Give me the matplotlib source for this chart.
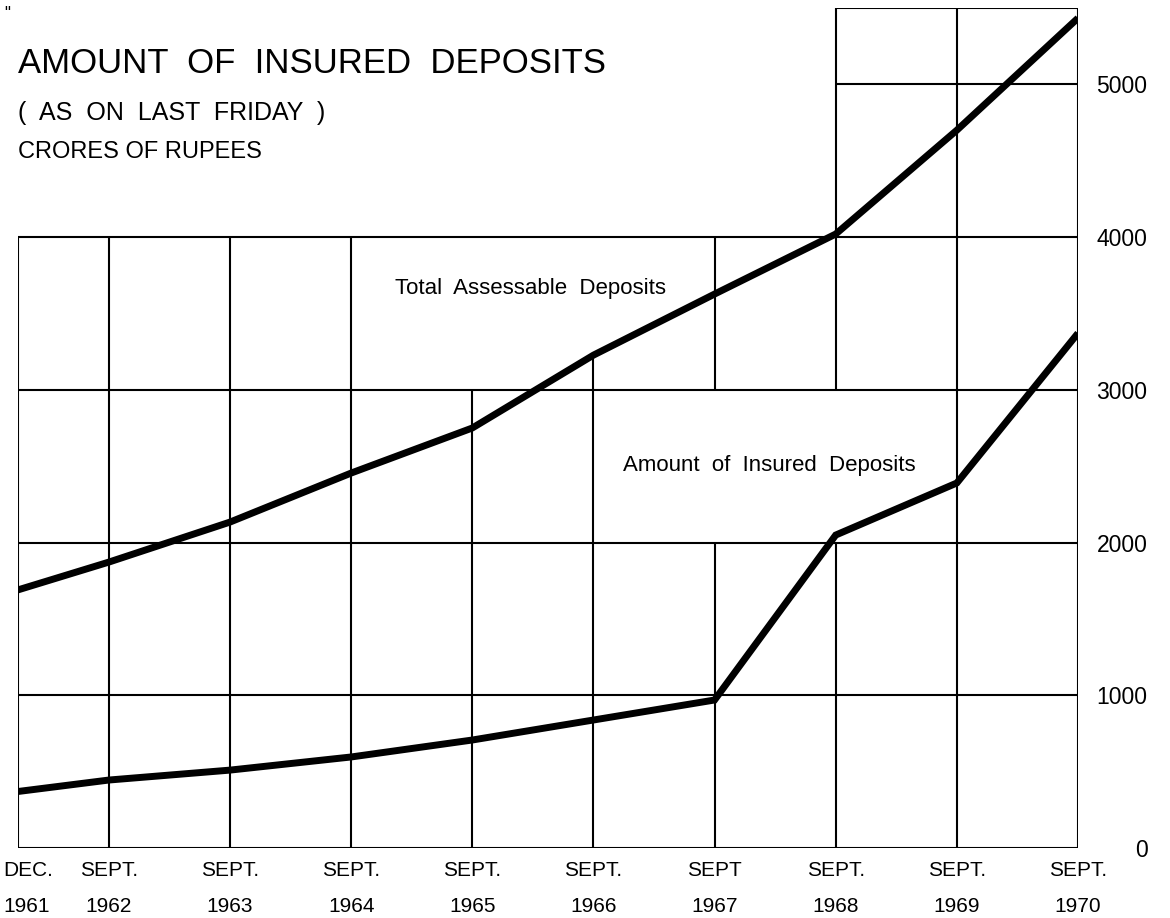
import matplotlib
matplotlib.use("Agg")
import matplotlib.pyplot as plt
from matplotlib.transforms import ScaledTranslation

# positions in decimal years (Dec 1961, then each September)
x_pos = [1961.917, 1962.667, 1963.667, 1964.667, 1965.667,
         1966.667, 1967.667, 1968.667, 1969.667, 1970.667]
x_labels = ["DEC.\n1961", "SEPT.\n1962", "SEPT.\n1963", "SEPT.\n1964", "SEPT.\n1965",
            "SEPT.\n1966", "SEPT\n1967", "SEPT.\n1968", "SEPT.\n1969", "SEPT.\n1970"]

total_assessable = [1690, 1872, 2134, 2455, 2750, 3227, 3627, 4020, 4700, 5434]
insured = [370, 445, 510, 596, 707, 838, 969, 2049, 2390, 3371]

y_ticks = [0, 1000, 2000, 3000, 4000, 5000]

plt.rcParams['font.family'] = ['Liberation Sans', 'DejaVu Sans']

fig = plt.figure(figsize=(11.7, 9.18), dpi=100)
ax = fig.add_axes([18 / 1170, 70 / 918, 1060 / 1170, 840 / 918])
ax.set_xlim(x_pos[0], x_pos[-1])
ax.set_ylim(0, 5500)

grid_kw = dict(color="black", linewidth=1.5, zorder=1)

# horizontal rules of the main box
for v in [0, 1000, 2000, 3000, 4000]:
    ax.hlines(v, x_pos[0], x_pos[-1], **grid_kw)
# small upper box, 1968-1970
for v in [5000, 5500]:
    ax.hlines(v, x_pos[7], x_pos[-1], **grid_kw)

# vertical rules (some are broken where the labels sit)
v_spans = [
    (x_pos[0], [(0, 4000)]),
    (x_pos[1], [(0, 4000)]),
    (x_pos[2], [(0, 4000)]),
    (x_pos[3], [(0, 4000)]),
    (x_pos[4], [(0, 3000)]),
    (x_pos[5], [(0, total_assessable[5])]),
    (x_pos[6], [(0, 2000), (3000, 4000)]),
    (x_pos[7], [(0, 2000), (3000, 5500)]),
    (x_pos[8], [(0, 5500)]),
    (x_pos[9], [(0, 5500)]),
]
for xv, spans in v_spans:
    for lo, hi in spans:
        ax.vlines(xv, lo, hi, **grid_kw)

ax.plot(x_pos, total_assessable, color="black", linewidth=5, solid_joinstyle="round",
        solid_capstyle="butt", zorder=3)
ax.plot(x_pos, insured, color="black", linewidth=5, solid_joinstyle="miter",
        solid_capstyle="butt", zorder=3)

ax.text(1965.03, 3627, "Total  Assessable  Deposits", fontsize=16, va="baseline", ha="left")
ax.text(1966.91, 2468, "Amount  of  Insured  Deposits", fontsize=16, va="baseline", ha="left")

for s in ax.spines.values():
    s.set_visible(False)

ax.set_xticks(x_pos)
ax.set_xticklabels(x_labels, fontsize=15, linespacing=2.2)
ax.tick_params(axis="x", length=0, pad=9)
# the first label sits at the left edge of the sheet
first = ax.get_xticklabels()[0]
first.set_horizontalalignment("left")
first.set_transform(first.get_transform() + ScaledTranslation(-0.15, 0, fig.dpi_scale_trans))

ax.yaxis.tick_right()
ax.set_yticks(y_ticks)
ax.set_yticklabels([str(t) for t in y_ticks], fontsize=16.5)
ax.tick_params(axis="y", length=0, pad=50)
for t in ax.yaxis.get_major_ticks():
    t.label2.set_horizontalalignment("right")

fig.text(18 / 1170, 1 - 73 / 918, "AMOUNT  OF  INSURED  DEPOSITS", fontsize=25,
         va="baseline", ha="left")
fig.text(18 / 1170, 1 - 120 / 918, "(  AS  ON  LAST  FRIDAY  )", fontsize=18,
         va="baseline", ha="left")
fig.text(18 / 1170, 1 - 158 / 918, "CRORES OF RUPEES", fontsize=17,
         va="baseline", ha="left")
fig.text(4 / 1170, 1 - 14 / 918, '"', fontsize=12, va="center", ha="left")

fig.savefig("out.png", dpi=100, facecolor="white")
